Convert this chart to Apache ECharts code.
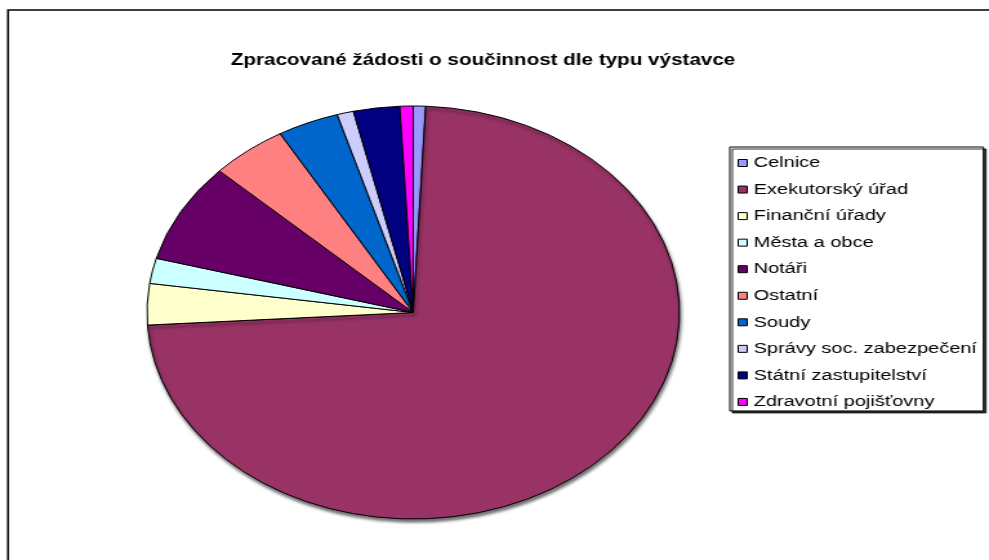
<!DOCTYPE html>
<html><head><meta charset="utf-8">
<script src="https://cdn.jsdelivr.net/npm/echarts@6/dist/echarts.min.js"></script>
<style>
html,body{margin:0;padding:0;background:#fff;overflow:hidden;width:989px;height:560px}
#chart{width:767px;height:560px;transform:scaleX(1.2894);transform-origin:0 0;}
</style></head><body><div id="chart"></div>
<script>
const chartTitle = 'Zpracované žádosti o součinnost dle typu výstavce';
const categories = ['Celnice','Exekutorský úřad','Finanční úřady','Města a obce','Notáři','Ostatní','Soudy','Správy soc. zabezpečení','Státní zastupitelství','Zdravotní pojišťovny'];
const values = [27, 2638, 116, 71, 281, 167, 134, 36, 101, 29];
const colors = ['#9999FF','#993366','#FFFFCC','#CCFFFF','#660066','#FF8080','#0066CC','#CCCCFF','#000080','#FF00FF'];

const FONT = '"Liberation Sans", Arial, Helvetica, sans-serif';
const chart = echarts.init(document.getElementById('chart'), null, {renderer:'canvas'});
const data = categories.map((c,i)=>({
  name:c, value:values[i],
  itemStyle: Object.assign({color:colors[i]}, i===1 ? {shadowColor:'rgba(0,0,0,0.55)', shadowOffsetY:3, shadowOffsetX:1, shadowBlur:3} : {})
}));
chart.setOption({
  animation:false,
  backgroundColor:'#fff',
  title:{
    text:chartTitle, left:179, top:52, padding:0,
    textStyle:{fontFamily:FONT, fontSize:16, fontWeight:'bold', color:'#000', lineHeight:18}
  },
  legend:{
    orient:'vertical', left:566, top:147,
    padding:[7,5,0,6], itemGap:8.55,
    itemWidth:7, itemHeight:7, icon:'rect',
    itemStyle:{borderColor:'#000', borderWidth:1},
    backgroundColor:'#fff', borderColor:'#000', borderWidth:1,
    shadowColor:'rgba(0,0,0,0.8)', shadowOffsetX:2, shadowOffsetY:2, shadowBlur:0,
    selectedMode:false,
    textStyle:{fontFamily:FONT, fontSize:15.5, color:'#000', lineHeight:18},
    data:categories
  },
  graphic:[{
    type:'rect', z:-10, silent:true,
    shape:{x:6.2, y:10, width:1000, height:1000},
    style:{fill:'none', stroke:'#000', lineWidth:1.5}
  }],
  series:[{
    type:'pie',
    center:[320.5, 312.5],
    radius:[0, 206.5],
    startAngle:90, clockwise:true,
    label:{show:false}, labelLine:{show:false},
    itemStyle:{borderColor:'#000', borderWidth:1},
    emphasis:{disabled:true},
    silent:true,
    data:data
  }]
});
</script></body></html>
